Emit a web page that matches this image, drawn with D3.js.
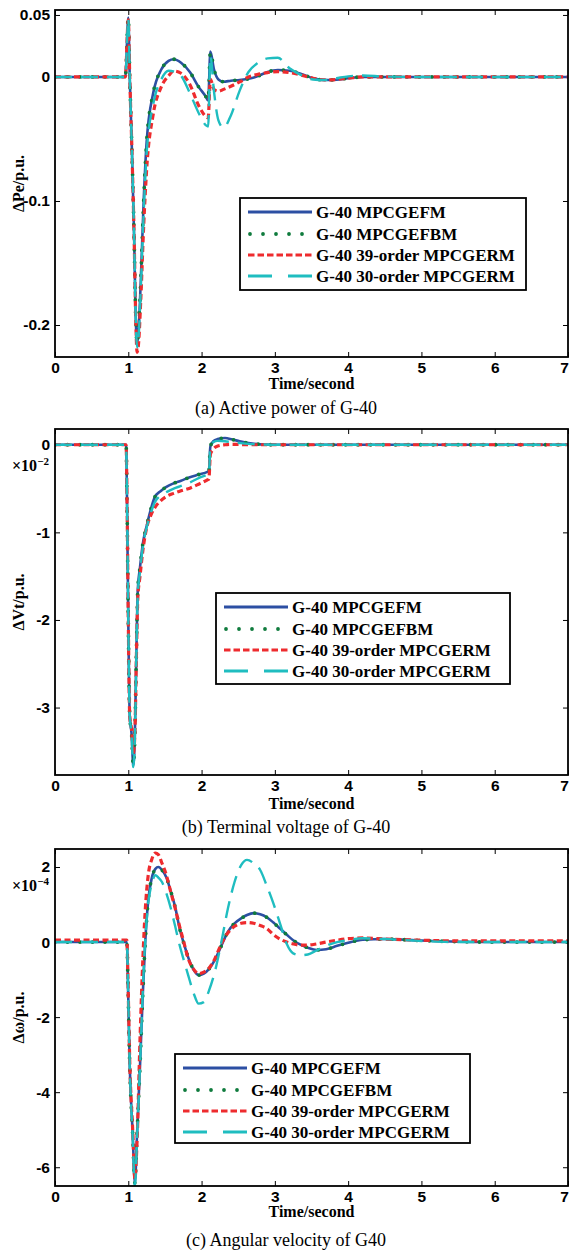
<!DOCTYPE html>
<html>
<head>
<meta charset="utf-8">
<script src="https://cdn.jsdelivr.net/npm/d3@7"></script>
<style>
  body { margin: 0; background: #fff; }
  svg { display: block; font-family: "Times New Roman", "Liberation Serif", serif; }
  .tick text { font-size: 15.5px; font-weight: bold; fill: #000; }
  .tick line { stroke: #000; stroke-width: 1; }
  .axis-title { font-size: 16px; font-weight: bold; }
  .caption { font-size: 18px; }
  .legend text { font-size: 17px; font-weight: bold; }
</style>
</head>
<body>
<svg id="chart" width="571" height="1252"></svg>
<script>
// ---- data ----
const xTicks = [0, 1, 2, 3, 4, 5, 6, 7];
const seriesNames = ['G-40 MPCGEFM', 'G-40 MPCGEFBM', 'G-40 39-order MPCGERM', 'G-40 30-order MPCGERM'];
const captions = ['(a) Active power of G-40', '(b) Terminal voltage of G-40', '(c) Angular velocity of G40'];

// (a) active power, p.u.
const yTicksA = [0.05, 0, -0.1, -0.2];
const timeA = [0, 0.5, 0.96, 1.0, 1.02, 1.05, 1.08, 1.10, 1.12, 1.14, 1.17, 1.21, 1.25, 1.34, 1.45, 1.55, 1.62, 1.72, 1.84, 1.96, 2.06, 2.09, 2.12, 2.17, 2.23, 2.30, 2.40, 2.52, 2.64, 2.76, 2.90, 3.04, 3.20, 3.36, 3.52, 3.68, 3.84, 4.0, 4.2, 4.5, 5, 6, 7];
const efmA = [0, 0, 0, 0.048, 0, -0.06, -0.13, -0.19, -0.215, -0.205, -0.165, -0.10, -0.053, -0.013, 0.006, 0.013, 0.0143, 0.0115, 0.004, -0.008, -0.016, -0.019, 0.0204, 0.006, -0.002, -0.0038, -0.003, -0.0024, -0.0015, 0.0005, 0.004, 0.0056, 0.005, 0.0025, -0.001, -0.0025, -0.0022, -0.001, 0, 0, 0, 0, 0];
const efbmA = [0, 0, 0, 0.048, 0, -0.06, -0.13, -0.19, -0.215, -0.205, -0.165, -0.10, -0.053, -0.013, 0.006, 0.013, 0.0143, 0.0115, 0.004, -0.008, -0.016, -0.019, 0.0204, 0.006, -0.002, -0.0038, -0.003, -0.0024, -0.0015, 0.0005, 0.004, 0.0056, 0.005, 0.0025, -0.001, -0.0025, -0.0022, -0.001, 0, 0, 0, 0, 0];
const rm39A = [0, 0, 0, 0.046, 0, -0.06, -0.13, -0.19, -0.222, -0.215, -0.18, -0.12, -0.075, -0.03, -0.008, 0.001, 0.0048, 0.003, -0.006, -0.023, -0.032, -0.033, -0.002, -0.010, -0.0115, -0.010, -0.0075, -0.004, 0, 0.002, 0.0035, 0.0043, 0.0035, 0.0015, -0.001, -0.0024, -0.002, -0.001, 0, 0, 0, 0, 0];
const rm30A = [0, 0, 0, 0.047, 0, -0.06, -0.13, -0.19, -0.218, -0.21, -0.172, -0.11, -0.062, -0.022, -0.002, 0.005, 0.0045, 0.001, -0.013, -0.029, -0.039, -0.040, 0.017, -0.012, -0.035, -0.041, -0.031, -0.011, 0.004, 0.011, 0.015, 0.0155, 0.007, 0.0015, -0.002, -0.0025, -0.001, 0.0005, 0.0012, 0.0003, 0, 0, 0];

// (b) terminal voltage, x1e-2 p.u.
const yTicksB = [0, -1, -2, -3];
const timeB = [0, 0.5, 0.97, 0.985, 1.0, 1.02, 1.045, 1.068, 1.09, 1.11, 1.13, 1.16, 1.20, 1.25, 1.30, 1.36, 1.44, 1.52, 1.62, 1.72, 1.84, 1.96, 2.08, 2.10, 2.12, 2.16, 2.22, 2.32, 2.42, 2.52, 2.64, 2.8, 3.0, 3.5, 4, 5, 6, 7];
const efmB = [0, 0, 0, -0.8, -2.0, -3.1, -3.3, -3.66, -3.3, -2.4, -1.65, -1.40, -1.12, -0.93, -0.76, -0.60, -0.53, -0.48, -0.44, -0.41, -0.37, -0.34, -0.31, -0.30, -0.02, 0.04, 0.065, 0.077, 0.06, 0.04, 0.02, 0.005, 0, 0, 0, 0, 0, 0];
const efbmB = [0, 0, 0, -0.8, -2.0, -3.1, -3.3, -3.66, -3.3, -2.4, -1.65, -1.40, -1.12, -0.93, -0.76, -0.60, -0.53, -0.48, -0.44, -0.41, -0.37, -0.34, -0.31, -0.30, -0.02, 0.04, 0.065, 0.077, 0.06, 0.04, 0.02, 0.005, 0, 0, 0, 0, 0, 0];
const rm39B = [0, 0, 0, -0.8, -2.0, -3.1, -3.25, -3.52, -3.3, -2.45, -1.75, -1.50, -1.20, -0.95, -0.82, -0.72, -0.64, -0.59, -0.555, -0.525, -0.495, -0.45, -0.40, -0.39, -0.11, -0.05, -0.015, 0, 0.005, 0.003, 0, 0, 0, 0, 0, 0, 0, 0];
const rm30B = [0, 0, 0, -0.8, -2.0, -3.1, -3.3, -3.68, -3.35, -2.4, -1.7, -1.45, -1.16, -0.95, -0.80, -0.66, -0.58, -0.54, -0.50, -0.47, -0.43, -0.38, -0.34, -0.33, -0.02, 0.03, 0.045, 0.04, 0.03, 0.02, 0.01, 0.005, 0, 0, 0, 0, 0, 0];

// (c) angular velocity, x1e-4 p.u.
const yTicksC = [2, 0, -2, -4, -6];
const timeC = [0, 0.5, 0.98, 1.0, 1.02, 1.06, 1.09, 1.12, 1.16, 1.20, 1.23, 1.27, 1.32, 1.37, 1.41, 1.46, 1.52, 1.58, 1.64, 1.70, 1.76, 1.82, 1.89, 1.96, 2.03, 2.10, 2.18, 2.27, 2.36, 2.45, 2.54, 2.62, 2.71, 2.80, 2.89, 2.98, 3.07, 3.16, 3.25, 3.35, 3.45, 3.57, 3.70, 3.85, 4.0, 4.2, 4.5, 5, 5.5, 6, 7];
const efmC = [0, 0, 0, -1.5, -3.3, -5.1, -6.42, -5.1, -3.3, -1.3, -0.05, 1.07, 1.70, 1.95, 2.0, 1.92, 1.72, 1.35, 0.93, 0.37, -0.05, -0.42, -0.73, -0.88, -0.84, -0.72, -0.48, -0.10, 0.28, 0.50, 0.63, 0.72, 0.77, 0.74, 0.66, 0.52, 0.36, 0.20, 0.05, -0.07, -0.15, -0.21, -0.19, -0.10, -0.02, 0.06, 0.08, 0.04, 0.01, 0, 0];
const efbmC = [0, 0, 0, -1.5, -3.3, -5.1, -6.42, -5.1, -3.3, -1.3, -0.05, 1.07, 1.70, 1.95, 2.0, 1.92, 1.72, 1.35, 0.93, 0.37, -0.05, -0.42, -0.73, -0.88, -0.84, -0.72, -0.48, -0.10, 0.28, 0.50, 0.63, 0.72, 0.77, 0.74, 0.66, 0.52, 0.36, 0.20, 0.05, -0.07, -0.15, -0.21, -0.19, -0.10, -0.02, 0.06, 0.08, 0.04, 0.01, 0, 0];
const rm39C = [0.05, 0.05, 0.05, -1.4, -3.2, -5.0, -6.3, -5.3, -2.6, -0.4, 0.8, 1.75, 2.2, 2.37, 2.33, 2.1, 1.78, 1.33, 0.9, 0.42, -0.02, -0.45, -0.72, -0.84, -0.80, -0.70, -0.45, -0.05, 0.25, 0.42, 0.50, 0.52, 0.50, 0.44, 0.36, 0.20, 0.08, 0, -0.05, -0.08, -0.08, -0.05, 0, 0.05, 0.09, 0.11, 0.08, 0.05, 0.03, 0.03, 0.03];
const rm30C = [0, 0, 0, -1.5, -3.3, -5.2, -6.5, -5.2, -3.3, -1.2, 0, 1.0, 1.55, 1.78, 1.72, 1.6, 1.3, 0.9, 0.42, -0.08, -0.5, -0.9, -1.35, -1.64, -1.6, -1.3, -0.8, 0, 0.9, 1.6, 2.05, 2.19, 2.1, 1.92, 1.5, 1.03, 0.5, -0.04, -0.3, -0.35, -0.33, -0.22, -0.1, 0, 0.05, 0.1, 0.08, 0.03, 0, 0, 0];

// ---- styling ----
const styles = [
  { color: '#2c4fa3', width: 2.6, dash: null, cap: 'butt' },
  { color: '#0f7b3d', width: 3.8, dash: '0,12.5', cap: 'round' },
  { color: '#ee2b2e', width: 3.2, dash: '6,3.5', cap: 'butt' },
  { color: '#1fbdc0', width: 2.4, dash: '17,9', cap: 'butt' }
];
const legendDash = [null, '0,13', '6.5,3', '24,16'];

const panels = [
  { top: 10, bottom: 357, yDomain: [-0.2258, 0.054], ticks: yTicksA, fmt: d => d === 0 ? '0' : String(d),
    time: timeA, series: [efmA, efbmA, rm39A, rm30A], yLabel: 'ΔPe/p.u.', exp: null,
    xLabelY: 389, captionY: 414, legend: { x: 240, y: 198, w: 286, h: 92 } },
  { top: 429, bottom: 775, yDomain: [-3.77, 0.18], ticks: yTicksB, fmt: d => String(d),
    time: timeB, series: [efmB, efbmB, rm39B, rm30B], yLabel: 'ΔVt/p.u.', exp: { text: '−2', y: 471 },
    xLabelY: 809, captionY: 833, legend: { x: 216, y: 593, w: 294, h: 91 } },
  { top: 849, bottom: 1186, yDomain: [-6.5, 2.48], ticks: yTicksC, fmt: d => String(d),
    time: timeC, series: [efmC, efbmC, rm39C, rm30C], yLabel: 'Δω/p.u.', exp: { text: '−4', y: 891 },
    xLabelY: 1217, captionY: 1246, legend: { x: 175, y: 1054, w: 295, h: 89 } }
];

const svg = d3.select('#chart');
const left = 55, right = 568;
const x = d3.scaleLinear().domain([0, 7]).range([left, right]);

function drawPanel(p, i) {
  const y = d3.scaleLinear().domain(p.yDomain).range([p.bottom, p.top]);
  const g = svg.append('g');

  g.append('clipPath').attr('id', 'clip' + i)
    .append('rect').attr('x', left).attr('y', p.top).attr('width', right - left).attr('height', p.bottom - p.top);

  // axes, ticks pointing inward on all four sides
  const bottomAxis = g.append('g').attr('transform', `translate(0,${p.bottom})`)
    .call(d3.axisBottom(x).tickValues(xTicks).tickSize(-5).tickPadding(5).tickFormat(d3.format('d')));
  // last label sits right on the page edge, nudge it in
  bottomAxis.selectAll('.tick text').filter(d => d === 7).attr('dx', '-0.25em');
  g.append('g').attr('transform', `translate(0,${p.top})`)
    .call(d3.axisTop(x).tickValues(xTicks).tickSize(-5).tickFormat(''));
  g.append('g').attr('transform', `translate(${left},0)`)
    .call(d3.axisLeft(y).tickValues(p.ticks).tickSize(-5).tickPadding(5).tickFormat(p.fmt));
  g.append('g').attr('transform', `translate(${right},0)`)
    .call(d3.axisRight(y).tickValues(p.ticks).tickSize(-5).tickFormat(''));
  g.selectAll('.domain').remove();

  const line = d3.line()
    .x((d, j) => x(p.time[j]))
    .y(d => y(d))
    .curve(d3.curveMonotoneX);

  const plot = g.append('g').attr('clip-path', `url(#clip${i})`);
  plot.selectAll('path').data(p.series).join('path')
    .attr('d', line)
    .attr('fill', 'none')
    .attr('stroke', (d, j) => styles[j].color)
    .attr('stroke-width', (d, j) => styles[j].width)
    .attr('stroke-dasharray', (d, j) => styles[j].dash)
    .attr('stroke-linecap', (d, j) => styles[j].cap)
    .attr('stroke-linejoin', 'round');

  g.append('rect')
    .attr('x', left).attr('y', p.top).attr('width', right - left).attr('height', p.bottom - p.top)
    .attr('fill', 'none').attr('stroke', '#000').attr('stroke-width', 1.8);

  // legend
  const lg = g.append('g').attr('class', 'legend').attr('transform', `translate(${p.legend.x},${p.legend.y})`);
  lg.append('rect').attr('width', p.legend.w).attr('height', p.legend.h)
    .attr('fill', '#fff').attr('stroke', '#000').attr('stroke-width', 1.8);
  const rowY = [14, 36, 57, 78];
  const rows = lg.selectAll('.row').data(seriesNames).join('g').attr('class', 'row')
    .attr('transform', (d, j) => `translate(0,${rowY[j]})`);
  rows.append('line')
    .attr('x1', (d, j) => j === 1 ? 10 : 8).attr('x2', 72)
    .attr('stroke', (d, j) => styles[j].color)
    .attr('stroke-width', (d, j) => j === 1 ? 3.8 : 3)
    .attr('stroke-dasharray', (d, j) => legendDash[j])
    .attr('stroke-linecap', (d, j) => styles[j].cap);
  rows.append('text').attr('x', 76).attr('dy', '0.35em').text(d => d);

  // titles
  g.append('text').attr('class', 'axis-title')
    .attr('transform', `translate(24,${(p.top + p.bottom) / 2}) rotate(-90)`)
    .attr('text-anchor', 'middle').text(p.yLabel);
  g.append('text').attr('class', 'axis-title')
    .attr('x', (left + right) / 2).attr('y', p.xLabelY)
    .attr('text-anchor', 'middle').text('Time/second');
  g.append('text').attr('class', 'caption')
    .attr('x', 286).attr('y', p.captionY)
    .attr('text-anchor', 'middle').text(captions[i]);

  if (p.exp) {
    const e = g.append('text').attr('x', 12).attr('y', p.exp.y)
      .attr('font-size', 16).attr('font-weight', 'bold').text('×10');
    e.append('tspan').attr('dy', -6).attr('font-size', 11).text(p.exp.text);
  }
}

panels.forEach(drawPanel);
</script>
</body>
</html>
